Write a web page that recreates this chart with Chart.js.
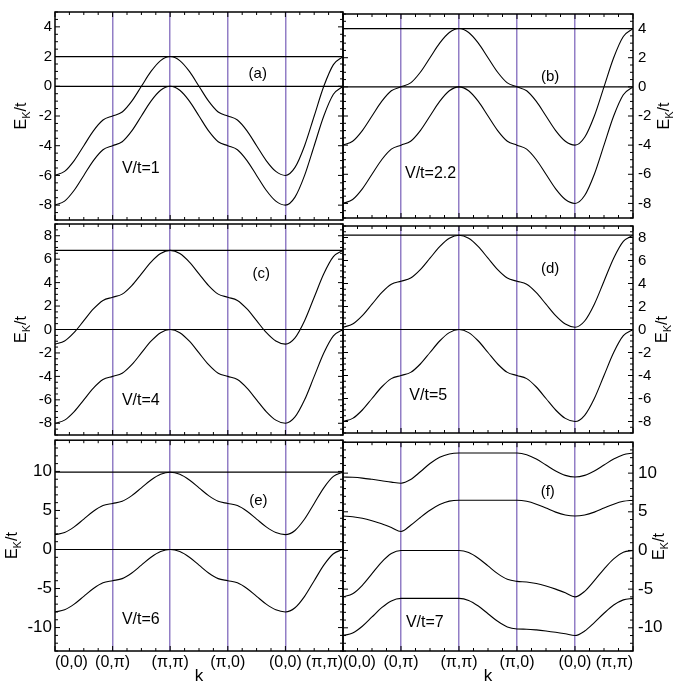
<!DOCTYPE html>
<html>
<head>
<meta charset="utf-8">
<script src="https://cdn.jsdelivr.net/npm/chart.js@4.4.1/dist/chart.umd.min.js"></script>
<style>
  html, body { margin: 0; padding: 0; background: #fff; }
  #wrap { position: relative; width: 691px; height: 689px; overflow: hidden; }
  canvas { position: absolute; }
</style>
</head>
<body>
<div id="wrap">
  <canvas id="pa" width="345" height="232" style="left:0;top:0"></canvas>
  <canvas id="pc" width="345" height="235" style="left:0;top:212px"></canvas>
  <canvas id="pe" width="345" height="262" style="left:0;top:427px"></canvas>
  <canvas id="pb" width="391" height="232" style="left:300px;top:0"></canvas>
  <canvas id="pd" width="391" height="235" style="left:300px;top:212px"></canvas>
  <canvas id="pf" width="391" height="262" style="left:300px;top:427px"></canvas>
</div>
<script>
// k path: (0,0) -> (0,pi) -> (pi,pi) -> (pi,0) -> (0,0) -> (pi,pi), 6 samples per segment
const kLabels = ['(0,0)', '(0,\u03c0)', '(\u03c0,\u03c0)', '(\u03c0,0)', '(0,0)', '(\u03c0,\u03c0)'];
const kSteps = 6;

// lower band, same in panels a-e
const lowerBand = [-8, -7.73, -7, -6, -5, -4.27, -4, -3.73, -3, -2, -1, -0.27, 0,
  -0.27, -1, -2, -3, -3.73, -4, -4.27, -5, -6, -7, -7.73, -8, -7.46, -6, -4, -2, -0.54, 0];

const aUpper = [-6, -5.73, -5, -4, -3, -2.27, -2, -1.73, -1, 0, 1, 1.73, 2,
  1.73, 1, 0, -1, -1.73, -2, -2.27, -3, -4, -5, -5.73, -6, -5.46, -4, -2, 0, 1.46, 2];
const bUpper = [-4, -3.73, -3, -2, -1, -0.27, 0, 0.27, 1, 2, 3, 3.73, 4,
  3.73, 3, 2, 1, 0.27, 0, -0.27, -1, -2, -3, -3.73, -4, -3.46, -2, 0, 2, 3.46, 4];
const cUpper = [-1.25, -0.98, -0.25, 0.75, 1.75, 2.48, 2.75, 3.02, 3.75, 4.75, 5.75, 6.48, 6.75,
  6.48, 5.75, 4.75, 3.75, 3.02, 2.75, 2.48, 1.75, 0.75, -0.25, -0.98, -1.25, -0.71, 0.75, 2.75, 4.75, 6.21, 6.75];
const dUpper = [0.2, 0.47, 1.2, 2.2, 3.2, 3.93, 4.2, 4.47, 5.2, 6.2, 7.2, 7.93, 8.2,
  7.93, 7.2, 6.2, 5.2, 4.47, 4.2, 3.93, 3.2, 2.2, 1.2, 0.47, 0.2, 0.74, 2.2, 4.2, 6.2, 7.66, 8.2];
const eUpper = [1.9, 2.17, 2.9, 3.9, 4.9, 5.63, 5.9, 6.17, 6.9, 7.9, 8.9, 9.63, 9.9,
  9.63, 8.9, 7.9, 6.9, 6.17, 5.9, 5.63, 4.9, 3.9, 2.9, 2.17, 1.9, 2.44, 3.9, 5.9, 7.9, 9.36, 9.9];

// panel f, four bands
const fBand1 = [9.5, 9.46, 9.36, 9.2, 9.02, 8.84, 8.7, 9.17, 10.18, 11.24, 12.05, 12.48, 12.6,
  12.6, 12.6, 12.6, 12.6, 12.6, 12.6, 12.39, 11.83, 11.05, 10.28, 9.71, 9.5, 9.71, 10.28, 11.05, 11.83, 12.39, 12.6];
const fBand2 = [4.45, 4.37, 4.17, 3.85, 3.45, 2.97, 2.45, 3.26, 4.27, 5.2, 5.93, 6.38, 6.5,
  6.5, 6.5, 6.5, 6.5, 6.5, 6.5, 6.36, 5.99, 5.48, 4.96, 4.59, 4.45, 4.59, 4.96, 5.48, 5.99, 6.36, 6.5];
const fBand3 = [-6, -5.6, -4.5, -3, -1.5, -0.4, 0, 0, 0, 0, 0, 0, 0,
  -0.27, -1, -2, -3, -3.73, -4, -4.08, -4.28, -4.6, -5, -5.48, -6, -5.28, -3.9, -2.4, -1.08, -0.24, 0];
const fBand4 = [-11, -10.68, -9.8, -8.6, -7.4, -6.52, -6.2, -6.2, -6.2, -6.2, -6.2, -6.2, -6.2,
  -6.46, -7.19, -8.18, -9.16, -9.89, -10.15, -10.18, -10.27, -10.41, -10.58, -10.78, -11, -10.42, -9.32, -8.12, -7.06, -6.39, -6.2];

// horizontal reference lines
const aLevels = [2, 0];
const bLevels = [4, 0];
const cLevels = [6.75, 0];
const dLevels = [8.2, 0];
const eLevels = [9.9, 0];
const fLevels = [];

// y tick labels
const ticksAB = [-8, -6, -4, -2, 0, 2, 4];
const ticksCD = [-8, -6, -4, -2, 0, 2, 4, 6, 8];
const ticksEF = [-10, -5, 0, 5, 10];

const FONT = "'Liberation Sans', Arial, sans-serif";
const PURPLE = 'rgb(146,126,198)';
Chart.defaults.font.family = FONT;
Chart.defaults.font.size = 15;
Chart.defaults.color = '#000';

const panels = [
  { id: 'pa', right: false, bands: [lowerBand, aUpper], levels: aLevels, min: -9, max: 5, ticks: ticksAB, minor: 0.5, fs: 15,
    tag: '(a)', tagAt: [3.52, 0.82], vt: 'V/t=1', vtAt: [1.49, -5.54], titleX: 22, pad: [7, 10], bottom: false },
  { id: 'pb', right: true, bands: [lowerBand, bUpper], levels: bLevels, min: -9, max: 5, ticks: ticksAB, minor: 0.5, fs: 15,
    tag: '(b)', tagAt: [3.57, 0.72], vt: 'V/t=2.2', vtAt: [1.51, -5.97], titleX: 365, pad: [7, 10], bottom: false },
  { id: 'pc', right: false, bands: [lowerBand, cUpper], levels: cLevels, min: -9, max: 9, ticks: ticksCD, minor: 0.5, fs: 15,
    tag: '(c)', tagAt: [3.58, 4.74], vt: 'V/t=4', vtAt: [1.49, -6.05], titleX: 22, pad: [10, 10], bottom: false },
  { id: 'pd', right: true, bands: [lowerBand, dUpper], levels: dLevels, min: -9, max: 9, ticks: ticksCD, minor: 0.5, fs: 15,
    tag: '(d)', tagAt: [3.57, 5.25], vt: 'V/t=5', vtAt: [1.47, -5.75], titleX: 363, pad: [10, 10], bottom: false },
  { id: 'pe', right: false, bands: [lowerBand, eUpper], levels: eLevels, min: -13, max: 14, ticks: ticksEF, minor: 1, fs: 17,
    tag: '(e)', tagAt: [3.53, 6.22], vt: 'V/t=6', vtAt: [1.49, -8.93], titleX: 13, pad: [10, 0], bottom: true },
  { id: 'pf', right: true, bands: [fBand1, fBand2, fBand3, fBand4], levels: fLevels, min: -13, max: 14, ticks: ticksEF, minor: 1, fs: 17,
    tag: '(f)', tagAt: [3.53, 7.52], vt: 'V/t=7', vtAt: [1.41, -9.27], titleX: 360, pad: [10, 0], bottom: true }
];

function drawTitle(ctx, x, y) {
  ctx.save();
  ctx.translate(x, y);
  ctx.rotate(-Math.PI / 2);
  ctx.fillStyle = '#000';
  ctx.textBaseline = 'middle';
  ctx.textAlign = 'left';
  const big = '16px ' + FONT, small = '11px ' + FONT;
  ctx.font = big;
  const wE = ctx.measureText('E').width, wT = ctx.measureText('/t').width;
  ctx.font = small;
  const wK = ctx.measureText('K').width;
  let cx = -(wE + wK + wT) / 2;
  ctx.font = big; ctx.fillText('E', cx, 0); cx += wE;
  ctx.font = small; ctx.fillText('K', cx, 5); cx += wK;
  ctx.font = big; ctx.fillText('/t', cx, 0);
  ctx.restore();
}

// frame, inward ticks, annotations
const framePlugin = {
  id: 'frame',
  afterDraw(chart, args, o) {
    const { ctx, chartArea: a } = chart;
    const x = chart.scales.x, y = chart.scales.y;
    ctx.save();
    ctx.strokeStyle = '#000';
    ctx.lineWidth = 1;
    const seg = (x1, y1, x2, y2) => { ctx.beginPath(); ctx.moveTo(x1, y1); ctx.lineTo(x2, y2); ctx.stroke(); };
    for (let i = 0; i <= 20; i++) {
      const px = x.getPixelForValue(i / 4);
      const len = i % 4 === 0 ? 5 : 3;
      seg(px, a.top, px, a.top + len);
      seg(px, a.bottom, px, a.bottom - len);
    }
    for (let v = Math.ceil(o.min / o.minor) * o.minor; v <= o.max; v += o.minor) {
      const py = y.getPixelForValue(v);
      const len = o.ticks.includes(Math.round(v * 100) / 100) ? 5 : 3;
      seg(a.left, py, a.left + len, py);
      seg(a.right, py, a.right - len, py);
    }
    ctx.lineWidth = 1.5;
    ctx.strokeRect(a.left, a.top, a.right - a.left, a.bottom - a.top);
    ctx.fillStyle = '#000';
    ctx.textAlign = 'center';
    ctx.textBaseline = 'middle';
    ctx.font = '15px ' + FONT;
    ctx.fillText(o.tag, x.getPixelForValue(o.tagAt[0]), y.getPixelForValue(o.tagAt[1]));
    ctx.font = '16px ' + FONT;
    ctx.fillText(o.vt, x.getPixelForValue(o.vtAt[0]), y.getPixelForValue(o.vtAt[1]));
    ctx.restore();
    drawTitle(ctx, o.titleX, (a.top + a.bottom) / 2);
  }
};

panels.forEach(p => {
  const datasets = [];
  p.levels.forEach(l => datasets.push({
    data: [{ x: 0, y: l }, { x: 5, y: l }],
    borderColor: '#000', borderWidth: 1.2, pointRadius: 0
  }));
  p.bands.forEach(b => datasets.push({
    data: b.map((v, i) => ({ x: i / kSteps, y: v })),
    borderColor: '#000', borderWidth: 1.1, pointRadius: 0, cubicInterpolationMode: 'monotone'
  }));

  new Chart(document.getElementById(p.id), {
    type: 'line',
    data: { datasets },
    plugins: [framePlugin],
    options: {
      responsive: false,
      animation: false,
      events: [],
      layout: {
        padding: { top: p.pad[0], bottom: p.pad[1], left: p.right ? 43 : 0, right: p.right ? 0 : 2 }
      },
      plugins: {
        legend: { display: false },
        tooltip: { enabled: false },
        frame: { tag: p.tag, tagAt: p.tagAt, vt: p.vt, vtAt: p.vtAt, titleX: p.titleX,
          min: p.min, max: p.max, minor: p.minor, ticks: p.ticks }
      },
      scales: {
        x: {
          type: 'linear', min: 0, max: 5,
          afterBuildTicks: s => { s.ticks = kLabels.map((l, i) => ({ value: i })); },
          afterFit: s => { s.height = p.bottom ? 38 : 0; },
          ticks: {
            display: p.bottom, align: 'inner', padding: 2, autoSkip: false, maxRotation: 0,
            font: { size: 16 },
            callback: (v, i) => kLabels[i]
          },
          grid: {
            drawTicks: false, lineWidth: 1.5,
            color: c => (c.tick && c.tick.value > 0 && c.tick.value < 5) ? PURPLE : 'rgba(0,0,0,0)'
          },
          border: { display: false },
          title: { display: p.bottom, text: 'k', font: { size: 17 }, padding: { top: 0, bottom: 2 } }
        },
        y: {
          position: p.right ? 'right' : 'left',
          min: p.min, max: p.max,
          afterBuildTicks: s => { s.ticks = p.ticks.map(v => ({ value: v })); },
          afterFit: s => { s.width = p.right ? 58 : 55; },
          ticks: { padding: p.right ? 5 : 3, font: { size: p.fs } },
          grid: { display: false, drawTicks: false },
          border: { display: false }
        }
      }
    }
  });
});
</script>
</body>
</html>
